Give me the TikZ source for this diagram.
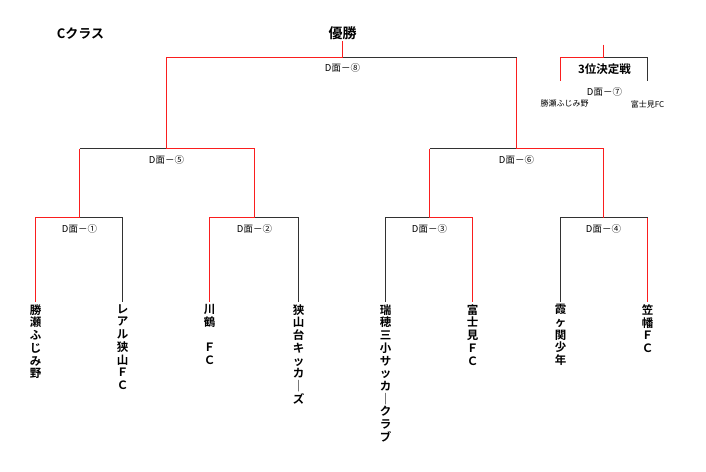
\documentclass[tikz,border=0pt]{standalone}
\usepackage{fontspec}
\setmainfont{Noto Sans CJK JP}[BoldFont={Noto Sans CJK JP Bold}]
\usetikzlibrary{positioning}
\definecolor{winred}{RGB}{250,30,30}
\definecolor{losegray}{RGB}{50,50,50}

\begin{document}
\begin{tikzpicture}[
			x = 1pt, y = -1pt,
			win/.style = {draw=winred, line width=1.4pt},
			lose/.style = {draw=losegray, line width=1pt},
			team/.style = {anchor=north, inner sep=0, outer sep=3pt, align=center, font=\bfseries\fontsize{11.5}{12.7}\selectfont},
			match/.style = {inner sep=0, font=\fontsize{9.5}{12}\selectfont},
			head/.style = {inner sep=1pt, font=\bfseries\fontsize{13}{15}\selectfont},
			small/.style = {inner sep=0, font=\fontsize{8}{10}\selectfont}
			]
			\useasboundingbox (0,0) rectangle (706,471);
			\begin{scope}[shift={(0.5,0.5)}]

			\node[head] (title) at (80,33) {Cクラス};
			\node[head,font=\bfseries\fontsize{14}{16}\selectfont] (champ) at (342,33) {優勝};

			% teams
			\foreach \n/\x/\name in {1/35/{勝\\瀬\\ふ\\じ\\み\\野},
				2/122/{レ\\ア\\ル\\狭\\山\\Ｆ\\Ｃ},
				3/209/{川\\鶴\\\mbox{}\\Ｆ\\Ｃ},
				4/298/{狭\\山\\台\\キ\\ッ\\カ\\｜\\ズ},
				5/385/{瑞\\穂\\三\\小\\サ\\ッ\\カ\\｜\\ク\\ラ\\ブ},
				6/472/{富\\士\\見\\Ｆ\\Ｃ},
				7/560/{霞\\ヶ\\関\\少\\年},
				8/647/{笠\\幡\\Ｆ\\Ｃ}}
				\node[team] (t\n) at (\x,301) {\name};

			\coordinate (m1) at (79,217);
			\coordinate (m2) at (254,217);
			\coordinate (m3) at (429,217);
			\coordinate (m4) at (603,217);
			\coordinate (m5) at (166,148);
			\coordinate (m6) at (516,148);
			\coordinate (m8) at (342,57);

			% first round
			\draw[win] (t1.north) |- (m1);
			\draw[lose] (m1) -| (t2.north);
			\draw[win] (t3.north) |- (m2);
			\draw[lose] (m2) -| (t4.north);
			\draw[lose] (t5.north) |- (m3);
			\draw[win] (m3) -| (t6.north);
			\draw[lose] (t7.north) |- (t8.north |- m4);
			\draw[win] (t8.north) -- (t8.north |- m4);

			% semifinals and final
			\draw[win] (m1) -- (m1 |- m5);
			\draw[lose] (m1 |- m5) -- (m5);
			\draw[win] (m2) |- (m5);
			\draw[win] (m3) -- (m3 |- m6);
			\draw[lose] (m3 |- m6) -- (m6);
			\draw[win] (m4) |- (m6);
			\draw[win] (m5) |- (m8);
			\draw[win] (m6) -- (m6 |- m8);
			\draw[lose] (m6 |- m8) -- (m8);
			\draw[win] (m8) -- (champ.south);

			\node[match,below=7pt of m1] (d1) {D面－①};
			\node[match,below=7pt of m2] (d2) {D面－②};
			\node[match,below=7pt of m3] (d3) {D面－③};
			\node[match,below=7pt of m4] (d4) {D面－④};
			\node[match,below=7pt of m5] (d5) {D面－⑤};
			\node[match,below=7pt of m6] (d6) {D面－⑥};
			\node[match,below=6pt of m8] (d8) {D面－⑧};

			% third place
			\coordinate (m7) at (603,57);
			\coordinate (s7) at (603,44);
			\coordinate (l7) at (560,80);
			\coordinate (r7) at (647,80);
			\draw[win] (s7) -- (m7);
			\draw[win] (l7) |- (m7);
			\draw[lose] (m7) -| (r7);
			\node[head,font=\bfseries\fontsize{11.5}{13}\selectfont] (third) at (604,69) {3位決定戦};
			\node[match] (d7) at (604,91) {D面－⑦};
			\node[small] (p1) at (564,103) {勝瀬ふじみ野};
			\node[small] (p2) at (647,104) {富士見FC};

			\end{scope}
		\end{tikzpicture}
\end{document}
